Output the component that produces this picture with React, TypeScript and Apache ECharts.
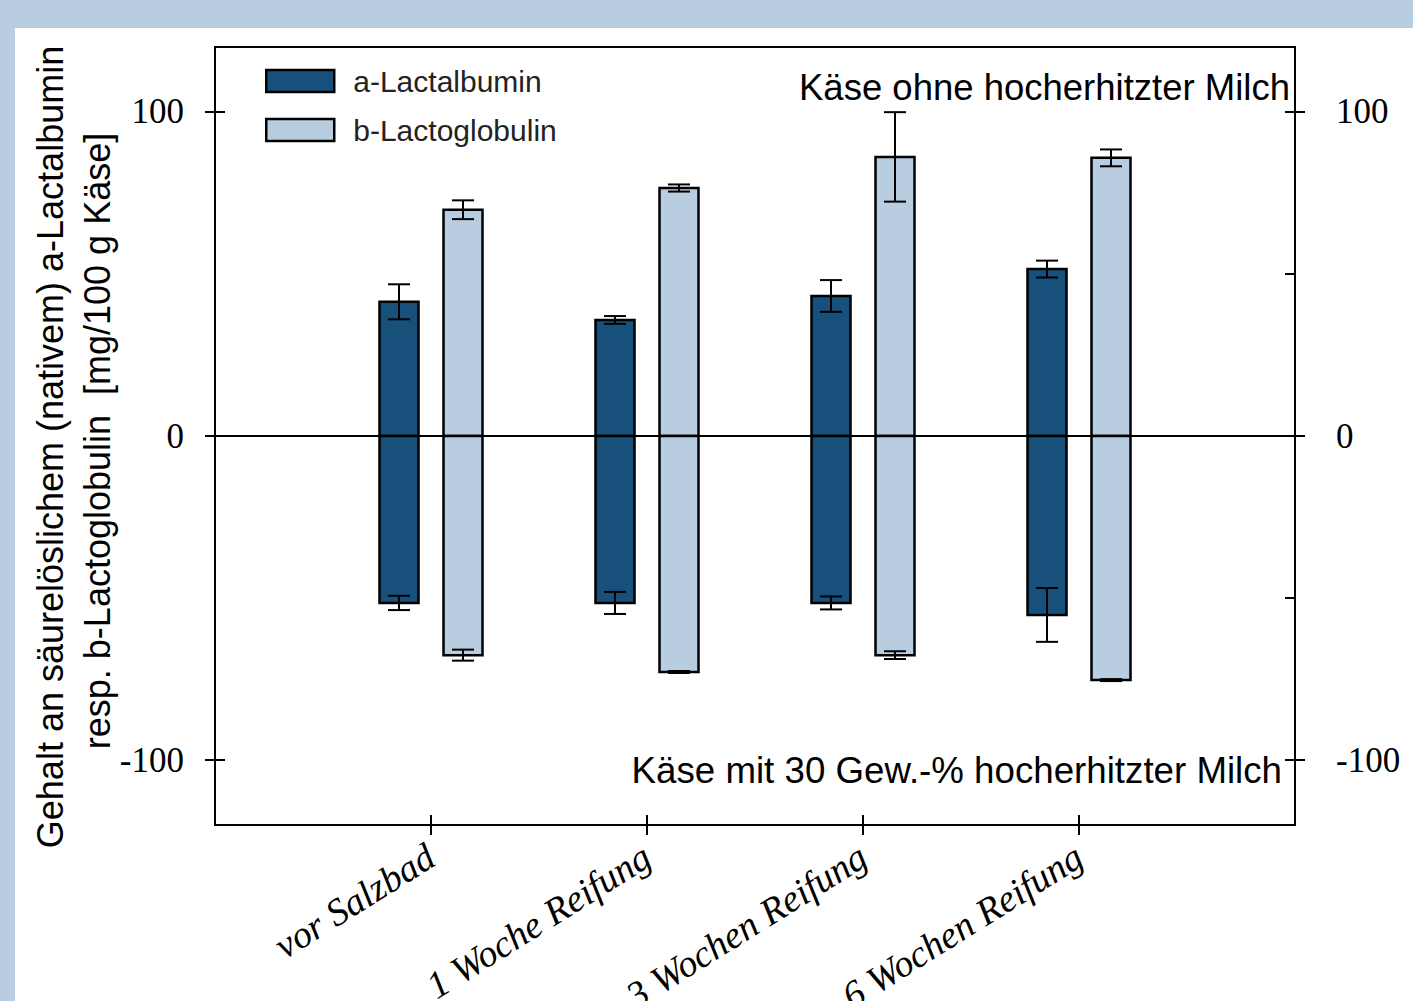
import React, { useEffect, useRef } from "react";
import * as echarts from "echarts";

const categories = ["vor Salzbad", "1 Woche Reifung", "3 Wochen Reifung", "6 Wochen Reifung"];
const seriesNames = ["a-Lactalbumin", "b-Lactoglobulin"];

// Käse ohne hocherhitzter Milch (positive)
const alphaTop = [41.4, 35.8, 43.2, 51.5];
const alphaTopErr = [5.4, 1.2, 4.9, 2.6];
const betaTop = [69.8, 76.5, 86.1, 85.8];
const betaTopErr = [2.9, 1.1, 13.8, 2.6];

// Käse mit 30 Gew.-% hocherhitzter Milch (negative)
const alphaBottom = [-51.5, -51.5, -51.5, -55.2];
const alphaBottomErr = [2.2, 3.4, 2.0, 8.3];
const betaBottom = [-67.6, -72.8, -67.6, -75.3];
const betaBottomErr = [1.7, 0.3, 1.2, 0.3];

const yTicks = [-100, 0, 100];
const yMinorTicks = [-100, -50, 0, 50, 100];
const topNote = "Käse ohne hocherhitzter Milch";
const bottomNote = "Käse mit 30 Gew.-% hocherhitzter Milch";
const yTitle1 = "Gehalt an säurelöslichem (nativem) a-Lactalbumin";
const yTitle2 = "resp. b-Lactoglobulin  [mg/100 g Käse]";

const DARK = "#17507b";
const LIGHT = "#b8cde0";
const OFFSET_FRAC = 32 / 216;
const BAR_FRAC = 39 / 216;
const CAP_FRAC = 22 / 216;

const catX = categories.map((_, i) => i + 1);

function buildData(top: number[], topErr: number[], bottom: number[], bottomErr: number[]) {
  const d: number[][] = [];
  catX.forEach((x, i) => d.push([x, top[i], topErr[i]]));
  catX.forEach((x, i) => d.push([x, bottom[i], bottomErr[i]]));
  return d;
}

function makeRender(side: number, color: string) {
  return (params: any, api: any) => {
    const x = api.value(0);
    const v = api.value(1);
    const e = api.value(2);
    const unit = api.size([1, 0])[0];
    const off = side * OFFSET_FRAC * unit;
    const w = BAR_FRAC * unit;
    const cap = CAP_FRAC * unit;
    const base = api.coord([x, 0]);
    const end = api.coord([x, v]);
    const hi = api.coord([x, v + e]);
    const lo = api.coord([x, v - e]);
    const cx = base[0] + off;
    const lineStyle = { stroke: "#000", lineWidth: 2 };
    return {
      type: "group",
      children: [
        {
          type: "rect",
          shape: { x: cx - w / 2, y: Math.min(base[1], end[1]), width: w, height: Math.abs(end[1] - base[1]) },
          style: { fill: color, stroke: "#000", lineWidth: 2.5 },
        },
        { type: "line", shape: { x1: cx, y1: hi[1], x2: cx, y2: lo[1] }, style: lineStyle },
        { type: "line", shape: { x1: cx - cap / 2, y1: hi[1], x2: cx + cap / 2, y2: hi[1] }, style: lineStyle },
        { type: "line", shape: { x1: cx - cap / 2, y1: lo[1], x2: cx + cap / 2, y2: lo[1] }, style: lineStyle },
      ],
    };
  };
}

export default function App() {
  const ref = useRef<HTMLDivElement>(null);
  useEffect(() => {
    if (!ref.current) return;
    const chart = echarts.init(ref.current, undefined, { renderer: "svg" });
    const serif = "'Liberation Serif', 'Times New Roman', serif";
    const sans = "'Liberation Sans', Arial, sans-serif";
    const yBase = {
      type: "value",
      min: -120,
      max: 120,
      splitLine: { show: false },
      axisLine: { show: false, onZero: false },
    };
    const tickStyle = { color: "#000", width: 2 };
    const option: any = {
      animation: false,
      backgroundColor: LIGHT,
      grid: {
        left: 215,
        top: 47,
        width: 1080,
        height: 778,
        containLabel: false,
        outerBoundsMode: "none",
        show: true,
        borderColor: "#000",
        borderWidth: 2,
        backgroundColor: "#fff",
      },
      graphic: [
        { type: "rect", z: -10, shape: { x: 15, y: 28, width: 1413, height: 1001 }, style: { fill: "#fff" } },
        {
          type: "text",
          x: 50,
          y: 447,
          rotation: Math.PI / 2,
          style: { text: yTitle1, fontSize: 36, fontFamily: sans, fill: "#000", align: "center", verticalAlign: "middle" },
        },
        {
          type: "text",
          x: 97,
          y: 441,
          rotation: Math.PI / 2,
          style: { text: yTitle2, fontSize: 36, fontFamily: sans, fill: "#000", align: "center", verticalAlign: "middle" },
        },
        {
          type: "text",
          x: 1290,
          y: 87,
          z: 20,
          style: { text: topNote, fontSize: 36.5, fontFamily: sans, fill: "#000", align: "right", verticalAlign: "middle" },
        },
        {
          type: "text",
          x: 1282,
          y: 770,
          z: 20,
          style: { text: bottomNote, fontSize: 36.7, fontFamily: sans, fill: "#000", align: "right", verticalAlign: "middle" },
        },
      ],
      legend: {
        orient: "vertical",
        left: 265,
        top: 66,
        padding: 0,
        itemWidth: 68,
        itemHeight: 22,
        itemGap: 19,
        textStyle: { fontSize: 30, fontFamily: sans, color: "#222", padding: [0, 0, 0, 14] },
        data: [
          { name: seriesNames[0], icon: "rect", itemStyle: { color: DARK, borderColor: "#000", borderWidth: 2.5 } },
          { name: seriesNames[1], icon: "rect", itemStyle: { color: LIGHT, borderColor: "#000", borderWidth: 2.5 } },
        ],
      },
      xAxis: [
        {
          type: "value",
          min: 0,
          max: 5,
          position: "bottom",
          splitLine: { show: false },
          axisLine: { show: false, onZero: false },
          axisTick: { show: true, inside: false, length: 10, lineStyle: tickStyle, customValues: catX },
          axisLabel: {
            show: true,
            customValues: catX,
            formatter: (v: number) => categories[Math.round(v) - 1] ?? "",
            rotate: 32,
            margin: 28,
            fontSize: 38,
            fontFamily: serif,
            fontStyle: "italic",
            color: "#000",
          },
        },
        {
          type: "value",
          min: 0,
          max: 5,
          position: "bottom",
          splitLine: { show: false },
          axisLine: { show: false, onZero: false },
          axisTick: { show: true, inside: true, length: 10, lineStyle: tickStyle, customValues: catX },
          axisLabel: { show: false },
        },
      ],
      yAxis: [
        {
          ...yBase,
          position: "left",
          axisTick: { show: true, inside: false, length: 10, lineStyle: tickStyle, customValues: yTicks },
          axisLabel: { show: true, customValues: yTicks, margin: 31, fontSize: 35, fontFamily: serif, color: "#000" },
        },
        {
          ...yBase,
          position: "left",
          axisTick: { show: true, inside: true, length: 10, lineStyle: tickStyle, customValues: yTicks },
          axisLabel: { show: false },
        },
        {
          ...yBase,
          position: "right",
          axisTick: { show: true, inside: false, length: 10, lineStyle: tickStyle, customValues: yTicks },
          axisLabel: { show: true, customValues: yTicks, margin: 41, fontSize: 35, fontFamily: serif, color: "#000" },
        },
        {
          ...yBase,
          position: "right",
          axisTick: { show: true, inside: true, length: 10, lineStyle: tickStyle, customValues: yMinorTicks },
          axisLabel: { show: false },
        },
      ],
      series: [
        {
          name: seriesNames[0],
          type: "custom",
          xAxisIndex: 0,
          yAxisIndex: 0,
          itemStyle: { color: DARK },
          renderItem: makeRender(-1, DARK),
          data: buildData(alphaTop, alphaTopErr, alphaBottom, alphaBottomErr),
          z: 3,
        },
        {
          name: seriesNames[1],
          type: "custom",
          xAxisIndex: 0,
          yAxisIndex: 0,
          itemStyle: { color: LIGHT },
          renderItem: makeRender(1, LIGHT),
          data: buildData(betaTop, betaTopErr, betaBottom, betaBottomErr),
          z: 3,
        },
        {
          name: "zero",
          type: "custom",
          xAxisIndex: 0,
          yAxisIndex: 0,
          silent: true,
          z: 10,
          renderItem: (params: any, api: any) => {
            const a = api.coord([0, 0]);
            const b = api.coord([5, 0]);
            return {
              type: "line",
              shape: { x1: a[0] - 10, y1: a[1], x2: b[0] + 10, y2: b[1] },
              style: { stroke: "#000", lineWidth: 2 },
            };
          },
          data: [[0, 0]],
        },
      ],
    };
    chart.setOption(option);
    return () => chart.dispose();
  }, []);
  return (
    <div style={{ position: "fixed", left: 0, top: 0, width: 1413, height: 1001 }}>
      <div ref={ref} style={{ width: 1413, height: 1001 }} />
    </div>
  );
}
